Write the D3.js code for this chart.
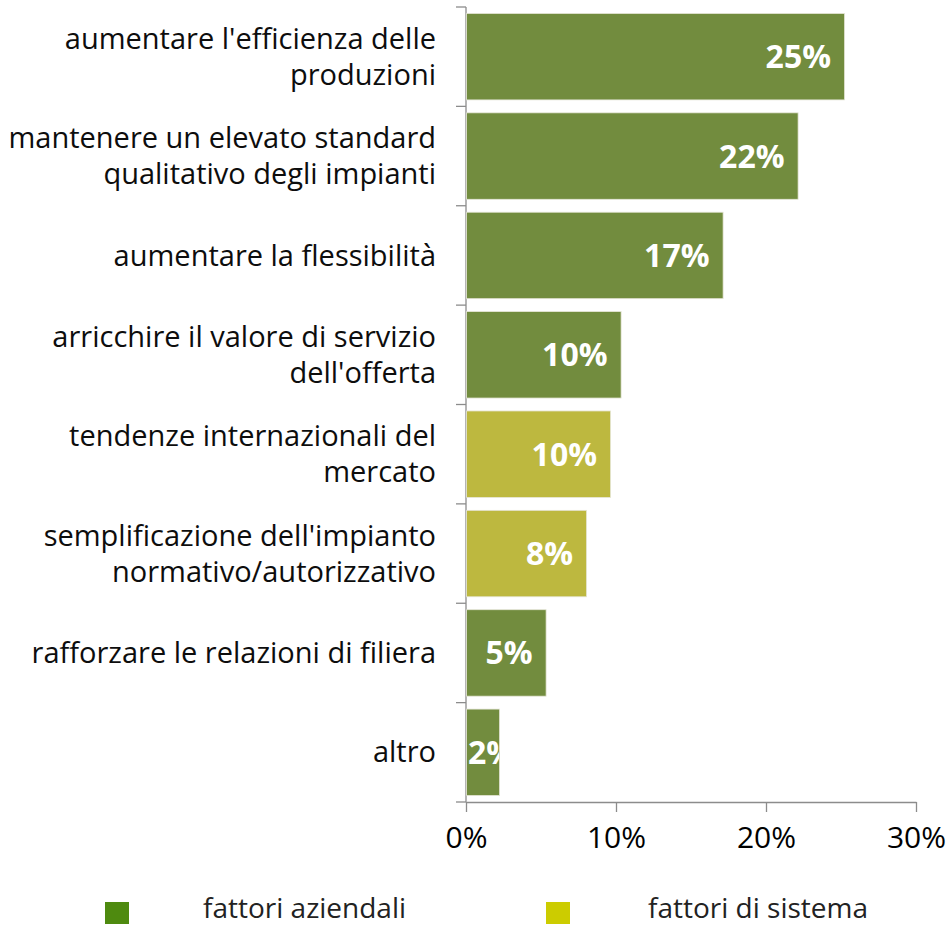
<!DOCTYPE html>
<html>
<head>
<meta charset="utf-8">
<script src="https://cdn.jsdelivr.net/npm/d3@7"></script>
<style>
  body { margin: 0; background: #fff; }
  text { font-family: "Open Sans", "Noto Sans", sans-serif; }
</style>
</head>
<body>
<div id="vis"></div>
<script>
// categories top to bottom, wrapped the same way as the original
const categories = [
    "aumentare l'efficienza delle\nproduzioni",
    "mantenere un elevato standard\nqualitativo degli impianti",
    "aumentare la flessibilità",
    "arricchire il valore di servizio\ndell'offerta",
    "tendenze internazionali del\nmercato",
    "semplificazione dell'impianto\nnormativo/autorizzativo",
    "rafforzare le relazioni di filiera",
    "altro"
];
const values = [25.2, 22.1, 17.1, 10.3, 9.6, 8.0, 5.3, 2.2];
const groups = ["az", "az", "az", "az", "sys", "sys", "az", "az"];
const xTicks = [0, 10, 20, 30];
const legendLabels = {az: "fattori aziendali", sys: "fattori di sistema"};

const barColor = {az: "#728c3e", sys: "#bdb83f"};
const legendColor = {az: "#4e8a0f", sys: "#cccc00"};

const width = 952, height = 925;
const margin = {top: 7, right: 36, bottom: 123, left: 466};

const svg = d3.select("#vis")
    .append("svg")
    .attr("width", width)
    .attr("height", height);

const x = d3.scaleLinear()
    .domain([0, 30])
    .range([margin.left, width - margin.right]);

const y = d3.scaleBand()
    .domain(categories)
    .range([margin.top, height - margin.bottom])
    .paddingInner(0.13)
    .paddingOuter(0.065);

const data = categories.map((c, i) => ({cat: c, value: values[i], group: groups[i]}));

////////// axes //////////

const step = y.step();
const yTicks = d3.range(categories.length + 1).map(i => margin.top + i * step);

svg.append("g")
    .selectAll("line")
    .data(yTicks)
    .enter()
    .append("line")
    .attr("x1", margin.left - 10)
    .attr("x2", margin.left)
    .attr("y1", d => d)
    .attr("y2", d => d)
    .attr("stroke", "#8c8c8c")
    .attr("stroke-width", 1.3);

const axisY = height - margin.bottom;

svg.append("line")
    .attr("x1", margin.left).attr("x2", margin.left)
    .attr("y1", margin.top).attr("y2", axisY)
    .attr("stroke", "#8c8c8c").attr("stroke-width", 1.3);

const xAxis = svg.append("g")
    .attr("transform", "translate(0," + axisY + ")")
    .call(d3.axisBottom(x).tickValues(xTicks).tickSize(10).tickSizeOuter(0).tickFormat(d => d + "%"));

xAxis.select(".domain").attr("stroke", "#8c8c8c").attr("stroke-width", 1.3);
xAxis.selectAll(".tick line").attr("stroke", "#8c8c8c").attr("stroke-width", 1.3);
xAxis.selectAll(".tick text")
    .attr("y", 25)
    .attr("dy", "0.71em")
    .attr("fill", "#000")
    .style("font-size", "30px")
    .style("font-family", "\"Open Sans\", sans-serif");

////////// category labels //////////

const labels = svg.append("g")
    .selectAll("text")
    .data(data)
    .enter()
    .append("text")
    .attr("text-anchor", "end")
    .attr("fill", "#0d0d0d")
    .style("font-size", "29px");

labels.each(function (d) {
    const lines = d.cat.split("\n");
    const cy = y(d.cat) + y.bandwidth() / 2;
    const lh = 36;
    const start = cy - (lines.length - 1) * lh / 2;
    d3.select(this).selectAll("tspan")
        .data(lines)
        .enter()
        .append("tspan")
        .attr("x", 436)
        .attr("y", (l, i) => start + i * lh)
        .attr("dy", "0.35em")
        .text(l => l);
});

////////// bars //////////

const defs = svg.append("defs");

data.forEach((d, i) => {
    defs.append("clipPath")
        .attr("id", "clip" + i)
        .append("rect")
        .attr("x", x(0))
        .attr("y", y(d.cat))
        .attr("width", x(d.value) - x(0))
        .attr("height", y.bandwidth());
});

svg.append("g")
    .selectAll("rect")
    .data(data)
    .enter()
    .append("rect")
    .attr("x", x(0) + 0.6)
    .attr("y", d => y(d.cat))
    .attr("width", d => x(d.value) - x(0))
    .attr("height", y.bandwidth())
    .attr("fill", d => barColor[d.group])
    .attr("stroke", "#e6e6d8")
    .attr("stroke-width", 0.8);

const valLabels = svg.append("g")
    .selectAll("text")
    .data(data)
    .enter()
    .append("text")
    .attr("clip-path", (d, i) => "url(#clip" + i + ")")
    .attr("y", d => y(d.cat) + y.bandwidth() / 2)
    .attr("dy", "0.36em")
    .attr("fill", "#fff")
    .style("font-size", "32px")
    .style("font-weight", "bold")
    .text(d => Math.round(d.value) + "%");

valLabels.each(function (d) {
    const w = this.getComputedTextLength();
    const left = Math.max(x(0) + 2, x(d.value) - 13 - w);
    d3.select(this).attr("x", left);
});

////////// legend //////////

const legendItems = [
    {key: "az", sx: 105, tx: 203},
    {key: "sys", sx: 546, tx: 648}
];

const legend = svg.append("g");

legend.selectAll("rect")
    .data(legendItems)
    .enter()
    .append("rect")
    .attr("x", d => d.sx)
    .attr("y", 902)
    .attr("width", 24)
    .attr("height", 22)
    .attr("fill", d => legendColor[d.key]);

legend.selectAll("text")
    .data(legendItems)
    .enter()
    .append("text")
    .attr("x", d => d.tx)
    .attr("y", 918)
    .attr("fill", "#222")
    .style("font-size", "28px")
    .text(d => legendLabels[d.key]);
</script>
</body>
</html>
